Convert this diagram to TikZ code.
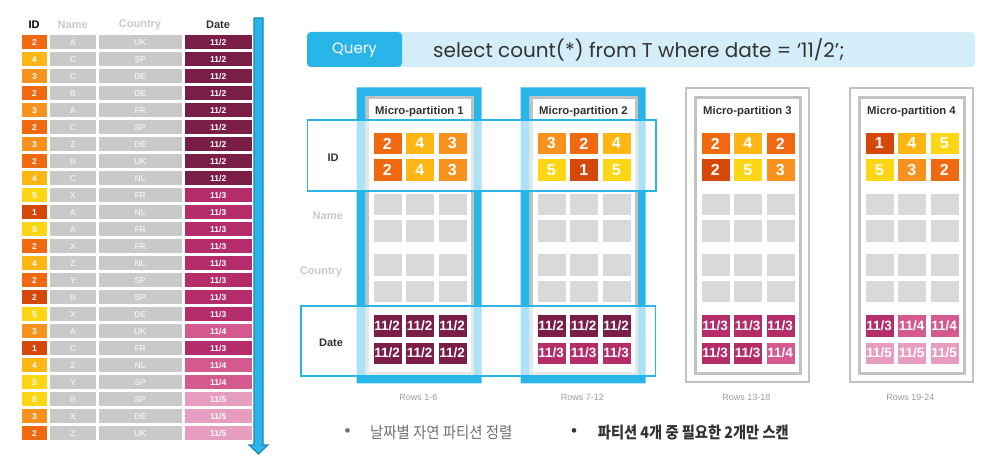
\documentclass[tikz,border=0pt]{standalone}
\usepackage{fontspec}
\setmainfont{Liberation Sans}
\newfontfamily\qfont{Poppins}
\newfontfamily\krfont{Noto Sans CJK KR}
\usetikzlibrary{calc}
\definecolor{cA}{HTML}{D6470A}
\definecolor{cB}{HTML}{F06911}
\definecolor{cC}{HTML}{F7921E}
\definecolor{cD}{HTML}{FDB614}
\definecolor{cE}{HTML}{FFD614}
\definecolor{dA}{HTML}{7A1E47}
\definecolor{dB}{HTML}{B42C69}
\definecolor{dC}{HTML}{D3598F}
\definecolor{dD}{HTML}{E79DBF}
\definecolor{tgrey}{HTML}{C9C9C9}
\definecolor{ttext}{HTML}{EDEDED}
\definecolor{pgrey}{HTML}{D9D9D9}
\definecolor{fgrey}{HTML}{C2C2C2}
\definecolor{qblue}{HTML}{29B5E8}
\definecolor{qdark}{HTML}{1B85B8}
\definecolor{qlight}{HTML}{D3EEF8}
\definecolor{hdrgrey}{HTML}{C8C8C8}
\definecolor{txtdark}{HTML}{333333}
\definecolor{rowsgrey}{HTML}{9A9A9A}
\definecolor{bulgrey}{HTML}{707070}
\tikzset{
  tcell/.style={anchor=north west, inner sep=0pt, minimum height=14pt, text=white,
    font=\bfseries\fontsize{8.5}{9}\selectfont},
  pcell/.style={anchor=north west, inner sep=0pt, minimum width=29pt, minimum height=22.5pt,
    text=white, draw=white, line width=0.4pt},
  idcell/.style={pcell, font=\bfseries\fontsize{16}{16}\selectfont},
  dtcell/.style={pcell, font=\bfseries\fontsize{13.5}{14}\selectfont},
  hdr/.style={font=\bfseries\fontsize{11}{12}\selectfont},
  title/.style={font=\bfseries\fontsize{11.3}{12}\selectfont, text=txtdark},
  rowslbl/.style={font=\fontsize{9}{10}\selectfont, text=rowsgrey},
  hilite/.style={draw=qblue, line width=1.5pt, fill=white, fill opacity=0.62}
}
\begin{document}
\begin{tikzpicture}[x=1pt,y=-1pt]
\useasboundingbox (0,0) rectangle (1002,462);
% ---------------- left table ----------------
\node[hdr, text=black] (hid) at (34,24.5) {ID};
\node[hdr, text=hdrgrey] (hname) at (72.7,24.5) {Name};
\node[hdr, text=hdrgrey] (hcountry) at (140,24.5) {Country};
\node[hdr, text=txtdark] (hdate) at (218,24.5) {Date};
\foreach \i/\id/\ic/\nm/\ct/\dt/\dc in {
 1/2/cB/A/UK/11\slash 2/dA, 2/4/cD/C/SP/11\slash 2/dA, 3/3/cC/C/DE/11\slash 2/dA,
 4/2/cB/B/DE/11\slash 2/dA, 5/3/cC/A/FR/11\slash 2/dA, 6/2/cB/C/SP/11\slash 2/dA,
 7/3/cC/Z/DE/11\slash 2/dA, 8/2/cB/B/UK/11\slash 2/dA, 9/4/cD/C/NL/11\slash 2/dA,
 10/5/cE/X/FR/11\slash 3/dB, 11/1/cA/A/NL/11\slash 3/dB, 12/5/cE/A/FR/11\slash 3/dB,
 13/2/cB/X/FR/11\slash 3/dB, 14/4/cD/Z/NL/11\slash 3/dB, 15/2/cB/Y/SP/11\slash 3/dB,
 16/2/cA/B/SP/11\slash 3/dB, 17/5/cE/X/DE/11\slash 3/dB, 18/3/cC/A/UK/11\slash 4/dC,
 19/1/cA/C/FR/11\slash 3/dB, 20/4/cD/Z/NL/11\slash 4/dC, 21/5/cE/Y/SP/11\slash 4/dC,
 22/5/cE/B/SP/11\slash 5/dD, 23/3/cC/X/DE/11\slash 5/dD, 24/2/cB/Z/UK/11\slash 5/dD}{
  \pgfmathsetmacro{\yy}{35+17*(\i-1)}
  \node[tcell, fill=\ic, minimum width=24.7pt] (tid\i) at (22,\yy) {\id};
  \node[tcell, fill=tgrey, text=ttext, minimum width=45.3pt] (tnm\i) at (50,\yy) {\nm};
  \node[tcell, fill=tgrey, text=ttext, minimum width=82.6pt] (tct\i) at (98.7,\yy) {\ct};
  \node[tcell, fill=\dc, minimum width=67.4pt] (tdt\i) at (184.3,\yy) {\dt};
}
% arrow
\draw[draw=qdark, fill=qblue, line width=1.1pt, line join=miter]
  (254,18) -- (263,18) -- (263,445) -- (268,445) -- (258.5,454) -- (249,445) -- (254,445) -- cycle;
% ---------------- query bar ----------------
\fill[qlight, rounded corners=4pt] (307,32) rectangle (975,67);
\fill[qblue, rounded corners=4pt] (307,32) rectangle (402,67);
\node[text=white, font=\qfont\fontsize{15}{16}\selectfont] (qlabel) at (354.5,50) {Query};
\node[anchor=west, inner sep=0pt, text=txtdark, font=\qfont\fontsize{20}{21}\selectfont] (qtext) at (433,50)
  {select count(*) from T where date = ‘11/2’;};
% ---------------- partitions frames ----------------
\foreach \k in {0,1}{
  \pgfmathsetmacro{\c}{372.5+164*\k}
  \fill[qblue, even odd rule] (\c-16,87.5) rectangle (\c+109,383.5) (\c-7,96) rectangle (\c+101,375);
  \draw[fgrey, line width=3pt, fill=white] (\c-5.5,97.5) rectangle (\c+99.5,373.5);
}
\foreach \k in {2,3}{
  \pgfmathsetmacro{\c}{372.5+164*\k}
  \draw[fgrey, line width=2pt] (\c-15,88.5) rectangle (\c+108,382.5);
  \draw[fgrey, line width=3pt, fill=white] (\c-5.5,97.5) rectangle (\c+99.5,373.5);
}
% highlights
\draw[hilite] (307.3,120) rectangle (656,191);
\draw[hilite] (301,306) rectangle (655.7,376);
% titles and rows labels
\foreach \k in {1,2,3,4}{
  \pgfmathsetmacro{\c}{372.5+164*(\k-1)}
  \node[title] (mp\k) at (\c+47,112) {Micro-partition \k};
}
\foreach \k/\r in {1/1-6,2/7-12,3/13-18,4/19-24}{
  \pgfmathsetmacro{\c}{372.5+164*(\k-1)}
  \node[rowslbl] (rows\k) at (\c+46,397) {Rows \r};
}
% grey cells
\foreach \k in {0,1,2,3}{
  \foreach \r/\yy in {1/192.7,2/219.3,3/253.3,4/280}{
    \foreach \j in {0,1,2}{
      \pgfmathsetmacro{\xx}{372.5+164*\k+32.5*\j}
      \node[pcell, fill=pgrey] (g\k-\r-\j) at (\xx,\yy) {};
    }
  }
}
% ID cells
\foreach \k/\yy/\a/\ac/\b/\bc/\e/\ec in {
  0/132/2/cB/4/cD/3/cC, 0/158.3/2/cB/4/cD/3/cC,
  1/132/3/cC/2/cB/4/cD, 1/158.3/5/cE/1/cA/5/cE,
  2/132/2/cB/4/cD/2/cB, 2/158.3/2/cA/5/cE/3/cC,
  3/132/1/cA/4/cD/5/cE, 3/158.3/5/cE/3/cC/2/cB}{
  \pgfmathsetmacro{\xx}{372.5+164*\k}
  \pgfmathtruncatemacro{\rr}{\yy>140?2:1}
  \node[idcell, fill=\ac] (id\k-\rr-0) at (\xx,\yy) {\a};
  \node[idcell, fill=\bc] (id\k-\rr-1) at (\xx+32.5,\yy) {\b};
  \node[idcell, fill=\ec] (id\k-\rr-2) at (\xx+65,\yy) {\e};
}
% Date cells
\foreach \k/\yy/\a/\ac/\b/\bc/\e/\ec in {
  0/314.3/2/dA/2/dA/2/dA, 0/341.7/2/dA/2/dA/2/dA,
  1/314.3/2/dA/2/dA/2/dA, 1/341.7/3/dB/3/dB/3/dB,
  2/314.3/3/dB/3/dB/3/dB, 2/341.7/3/dB/3/dB/4/dC,
  3/314.3/3/dB/4/dC/4/dC, 3/341.7/5/dD/5/dD/5/dD}{
  \pgfmathsetmacro{\xx}{372.5+164*\k}
  \pgfmathtruncatemacro{\rr}{\yy>330?2:1}
  \node[dtcell, fill=\ac] (dt\k-\rr-0) at (\xx,\yy) {11/\a};
  \node[dtcell, fill=\bc] (dt\k-\rr-1) at (\xx+32.5,\yy) {11/\b};
  \node[dtcell, fill=\ec] (dt\k-\rr-2) at (\xx+65,\yy) {11/\e};
}
% row labels
\node[hdr, text=txtdark] (lid) at (333,157.5) {ID};
\node[hdr, text=hdrgrey] (lname) at (327.7,216) {Name};
\node[hdr, text=hdrgrey] (lcountry) at (321,271.7) {Country};
\node[hdr, text=txtdark] (ldate) at (331,343) {Date};
% ---------------- bullets ----------------
\node[text=bulgrey, font=\fontsize{17}{18}\selectfont] (bul1) at (347.7,433) {•};
\node[anchor=west, inner sep=0pt, text=bulgrey, font=\krfont\fontsize{16}{17}\selectfont] (txt1) at (370,433)
  {\scalebox{0.9}[1]{날짜별 자연 파티션 정렬}};
\node[text=txtdark, font=\fontsize{17}{18}\selectfont] (bul2) at (574,433) {•};
\node[anchor=west, inner sep=0pt, text=txtdark, font=\krfont\bfseries\fontsize{16}{17}\selectfont] (txt2) at (597.7,433)
  {\scalebox{0.89}[1]{파티션 4개 중 필요한 2개만 스캔}};
\end{tikzpicture}
\end{document}
